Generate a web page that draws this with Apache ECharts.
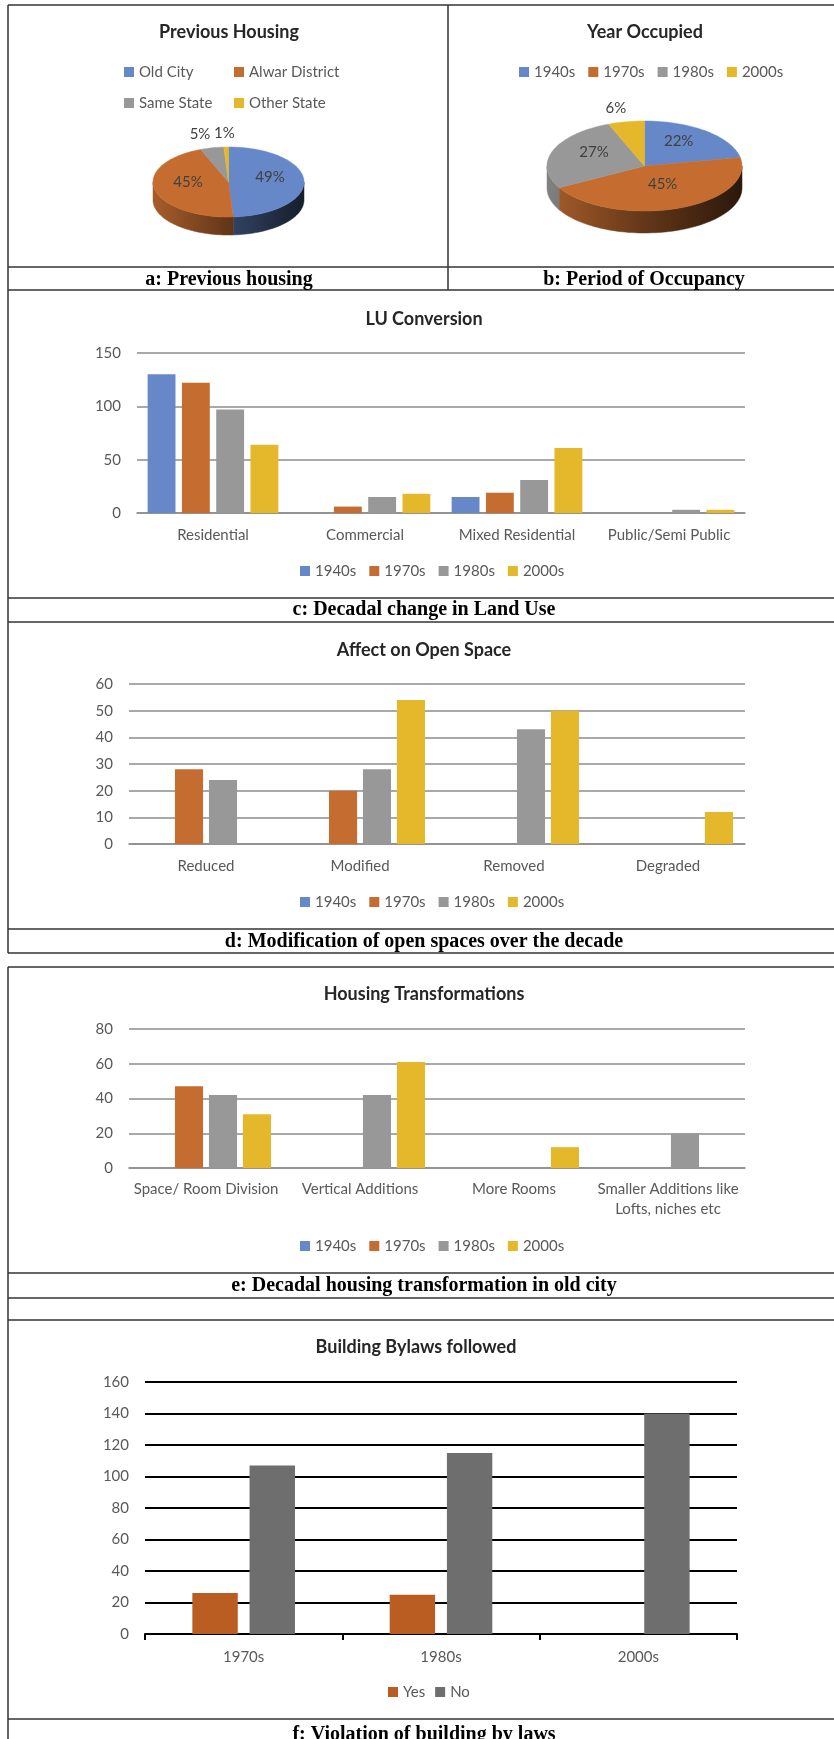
<!DOCTYPE html>
<html><head><meta charset="utf-8">
<script src="https://cdn.jsdelivr.net/npm/echarts@6/dist/echarts.min.js"></script>
<style>html,body{margin:0;padding:0;background:#fff}#chart{width:834px;height:1739px}</style>
</head><body><div id="chart"></div>
<script>
// ---------- data ----------
const prevHousingNames = ['Old City', 'Alwar District', 'Same State', 'Other State'];
const prevHousingPct = [49, 45, 5, 1];
const decades = ['1940s', '1970s', '1980s', '2000s'];
const occupiedPct = [22, 45, 27, 6];

const luCategories = ['Residential', 'Commercial', 'Mixed Residential', 'Public/Semi Public'];
const lu1940s = [130, 0, 15, 0];
const lu1970s = [122, 6, 19, 0];
const lu1980s = [97, 15, 31, 3];
const lu2000s = [64, 18, 61, 3];
const luTicks = [0, 50, 100, 150];

const osCategories = ['Reduced', 'Modified', 'Removed', 'Degraded'];
const os1940s = [0, 0, 0, 0];
const os1970s = [28, 20, 0, 0];
const os1980s = [24, 28, 43, 0];
const os2000s = [0, 54, 50, 12];
const osTicks = [0, 10, 20, 30, 40, 50, 60];

const htCategories = ['Space/ Room Division', 'Vertical Additions', 'More Rooms', 'Smaller Additions like\nLofts, niches etc'];
const ht1940s = [0, 0, 0, 0];
const ht1970s = [47, 0, 0, 0];
const ht1980s = [42, 42, 0, 20];
const ht2000s = [31, 61, 12, 0];
const htTicks = [0, 20, 40, 60, 80];

const bylawCategories = ['1970s', '1980s', '2000s'];
const bylawNames = ['Yes', 'No'];
const bylawYes = [26, 25, 0];
const bylawNo = [107, 115, 140];
const bylawTicks = [0, 20, 40, 60, 80, 100, 120, 140, 160];

// ---------- styles ----------
const C4 = ['#6688c9', '#c56d31', '#989898', '#e5b82b'];
const CF = ['#b95d22', '#6e6e6e'];
const FONT = 'Lato';
const GRID_GRAY = '#8c8c8c';

function shade(hex, f) {
  const n = parseInt(hex.slice(1), 16);
  const r = Math.round(((n >> 16) & 255) * f), g = Math.round(((n >> 8) & 255) * f), b = Math.round((n & 255) * f);
  return 'rgb(' + r + ',' + g + ',' + b + ')';
}

function pie3D(names, values, colors, geo) {
  const total = values.reduce((s, v) => s + v, 0);
  let acc = 0;
  return names.map((name, i) => {
    const a1 = acc / total * 2 * Math.PI; acc += values[i]; const a2 = acc / total * 2 * Math.PI;
    return {
      type: 'custom', name: name, coordinateSystem: 'none', silent: true,
      itemStyle: { color: colors[i] },
      data: [values[i]],
      renderItem: function (params, api) {
        const cx = geo.cx, cy = geo.cy, rx = geo.rx, ry = geo.ry, depth = geo.depth;
        const pt = (t, dy) => [cx + rx * Math.sin(t), cy - ry * Math.cos(t) + (dy || 0)];
        const arc = (s, e, dy) => {
          const n = Math.max(2, Math.ceil((e - s) / (Math.PI / 90)));
          const out = [];
          for (let k = 0; k <= n; k++) out.push(pt(s + (e - s) * k / n, dy));
          return out;
        };
        const children = [];
        const s = Math.max(a1, Math.PI / 2), e = Math.min(a2, 1.5 * Math.PI);
        if (e > s) {
          const top = arc(s, e, 0), bot = arc(s, e, depth).reverse();
          const grad = { type: 'linear', x: cx - rx, y: 0, x2: cx + rx, y2: 0, global: true,
            colorStops: [{ offset: 0, color: shade(colors[i], 0.85) }, { offset: 0.5, color: shade(colors[i], 0.5) }, { offset: 1, color: shade(colors[i], 0.22) }] };
          children.push({ type: 'polygon', shape: { points: top.concat(bot) }, style: { fill: grad, stroke: grad, lineWidth: 0.5 } });
        }
        children.push({ type: 'polygon', shape: { points: [[cx, cy]].concat(arc(a1, a2, 0)) }, style: { fill: colors[i], stroke: colors[i], lineWidth: 0.5 } });
        const m = (a1 + a2) / 2, pct = Math.round(values[i] / total * 100);
        let lx, ly;
        if (pct >= 10) { lx = cx + 0.55 * rx * Math.sin(m); ly = cy - 0.55 * ry * Math.cos(m) - 0.12 * ry; }
        else { const p = pt(m); lx = p[0] + 55 * Math.sin(m); ly = p[1] - 14; }
        children.push({ type: 'text', x: lx, y: ly, style: { text: pct + '%', fill: '#404040', fontFamily: FONT, fontSize: 15, align: 'center', verticalAlign: 'middle' } });
        return { type: 'group', children: children };
      }
    };
  });
}

function catAxis(gi, data, margin, black) {
  return {
    type: 'category', gridIndex: gi, data: data,
    axisLine: { lineStyle: { color: black ? '#000' : GRID_GRAY, width: black ? 2 : 1.5 } },
    axisTick: black ? { show: true, length: 6, lineStyle: { color: '#000', width: 2 } } : { show: false },
    axisLabel: { interval: 0, color: '#595959', fontFamily: FONT, fontSize: 15, margin: margin, lineHeight: 20 }
  };
}
function valAxis(gi, ticks, black) {
  return {
    type: 'value', gridIndex: gi, min: ticks[0], max: ticks[ticks.length - 1], interval: ticks[1] - ticks[0],
    axisLine: { show: false }, axisTick: { show: false },
    splitLine: { lineStyle: { color: black ? '#000' : GRID_GRAY, width: black ? 2 : 1.5 } },
    axisLabel: { color: '#595959', fontFamily: FONT, fontSize: 15, margin: 16 }
  };
}
function bars(gi, names, arrays, colors, catGap, gap) {
  return names.map((n, i) => ({
    type: 'bar', name: n, xAxisIndex: gi, yAxisIndex: gi, data: arrays[i],
    itemStyle: { color: colors[i] }, barCategoryGap: catGap, barGap: gap, silent: true
  }));
}

const legendCommon = { icon: 'rect', itemWidth: 10, itemHeight: 10, padding: 0, selectedMode: false,
  textStyle: { color: '#595959', fontFamily: FONT, fontSize: 15, lineHeight: 18 } };
const chartTitle = (text, x, y) => ({ text: text, left: x, top: y, padding: 0, textAlign: 'center', textVerticalAlign: 'middle',
  textStyle: { fontFamily: FONT, fontWeight: 'bold', fontSize: 18, color: '#262626' } });
const caption = (text, x, y) => ({ text: text, left: x, top: y, padding: 0, textAlign: 'center', textVerticalAlign: 'middle',
  textStyle: { fontFamily: 'Liberation Serif', fontWeight: 'bold', fontSize: 20, color: '#000' } });

// frame lines (layout)
const hLines = [5, 267, 290, 598, 622, 929, 953, 967, 1273, 1298, 1320, 1719];
const vLines = [[8, 5, 953], [8, 967, 1739], [448, 5, 290]];
const frame = hLines.map(y => ({ type: 'line', silent: true, shape: { x1: 8, y1: y, x2: 834, y2: y }, style: { stroke: '#333', lineWidth: 1.5 } }))
  .concat(vLines.map(v => ({ type: 'line', silent: true, shape: { x1: v[0], y1: v[1], x2: v[0], y2: v[2] }, style: { stroke: '#333', lineWidth: 1.5 } })));

const option = {
  animation: false,
  backgroundColor: '#fff',
  title: [
    chartTitle('Previous Housing', 229, 32),
    chartTitle('Year Occupied', 645, 32),
    chartTitle('LU Conversion', 424, 319),
    chartTitle('Affect on Open Space', 424, 650),
    chartTitle('Housing Transformations', 424, 994),
    chartTitle('Building Bylaws followed', 416, 1347),
    caption('a: Previous housing', 229, 280),
    caption('b: Period of Occupancy', 644, 280),
    caption('c: Decadal change in Land Use', 424, 610),
    caption('d: Modification of open spaces over the decade', 424, 942),
    caption('e: Decadal housing transformation in old city', 424, 1286),
    caption('f: Violation of building by laws', 424, 1735)
  ],
  legend: [
    Object.assign({ data: [prevHousingNames[0], prevHousingNames[2]], orient: 'vertical', left: 124, top: 63, itemGap: 13 }, legendCommon),
    Object.assign({ data: [prevHousingNames[1], prevHousingNames[3]], orient: 'vertical', left: 234, top: 63, itemGap: 13 }, legendCommon),
    Object.assign({ data: decades, left: 519, top: 63, itemGap: 13 }, legendCommon),
    Object.assign({ data: decades, left: 300, top: 562, itemGap: 13 }, legendCommon),
    Object.assign({ data: decades, left: 300, top: 893, itemGap: 13 }, legendCommon),
    Object.assign({ data: decades, left: 300, top: 1237, itemGap: 13 }, legendCommon),
    Object.assign({ data: bylawNames, left: 388, top: 1683, itemGap: 10 }, legendCommon)
  ],
  grid: [
    { left: 137, top: 353, width: 608, height: 160, containLabel: false, outerBoundsMode: 'none' },
    { left: 129, top: 684, width: 616, height: 160, containLabel: false, outerBoundsMode: 'none' },
    { left: 129, top: 1029, width: 616, height: 139, containLabel: false, outerBoundsMode: 'none' },
    { left: 145, top: 1382, width: 592, height: 252, containLabel: false, outerBoundsMode: 'none' }
  ],
  xAxis: [
    catAxis(0, luCategories, 12),
    catAxis(1, osCategories, 12),
    catAxis(2, htCategories, 11),
    catAxis(3, bylawCategories, 13, true)
  ],
  yAxis: [
    valAxis(0, luTicks),
    valAxis(1, osTicks),
    valAxis(2, htTicks),
    valAxis(3, bylawTicks, true)
  ],
  graphic: frame,
  series: [].concat(
    pie3D(prevHousingNames, prevHousingPct, C4, { cx: 228.5, cy: 182, rx: 75.5, ry: 35, depth: 18 }),
    pie3D(decades, occupiedPct, C4, { cx: 644.5, cy: 166, rx: 97.5, ry: 45, depth: 22 }),
    bars(0, decades, [lu1940s, lu1970s, lu1980s, lu2000s], C4, '14%', '23%'),
    bars(1, decades, [os1940s, os1970s, os1980s, os2000s], C4, '15.6%', '21%'),
    bars(2, decades, [ht1940s, ht1970s, ht1980s, ht2000s], C4, '15.6%', '21%'),
    bars(3, bylawNames, [bylawYes, bylawNo], CF, '48%', '26%')
  )
};

const chart = echarts.init(document.getElementById('chart'), null, { renderer: 'canvas' });
chart.setOption(option);
</script>
</body></html>
